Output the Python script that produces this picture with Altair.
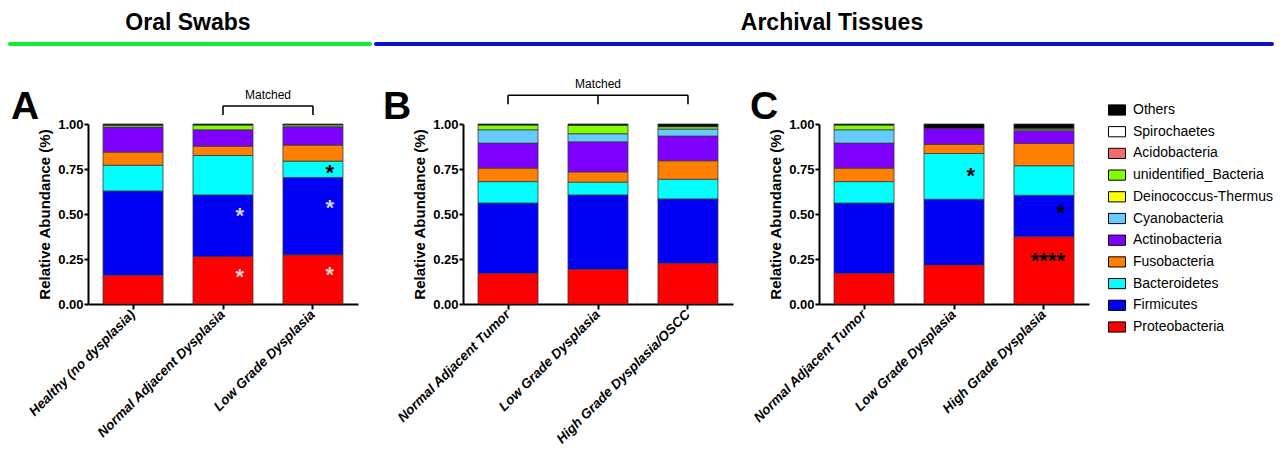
import altair as alt
import pandas as pd

FONT = "Liberation Sans"

# ---------------- data ----------------
stack_order = ["Proteobacteria", "Firmicutes", "Bacteroidetes", "Fusobacteria",
               "Actinobacteria", "Cyanobacteria", "Deinococcus-Thermus",
               "unidentified_Bacteria", "Acidobacteria", "Spirochaetes", "Others"]
legend_order = stack_order[::-1]
phylum_colors = ["#000000", "#ffffff", "#f26b6b", "#80ff00", "#ffff00", "#66ccff",
                 "#8000ff", "#ff8000", "#00ffff", "#0000f5", "#ff0000"]

# Panel A: Oral swabs (values in stack_order)
groups_A = ["Healthy (no dysplasia)", "Normal Adjacent Dysplasia", "Low Grade Dysplasia"]
healthy_A = [0.160, 0.468, 0.143, 0.073, 0.139, 0.000, 0.000, 0.010, 0.000, 0.000, 0.007]
nad_A = [0.264, 0.342, 0.219, 0.052, 0.091, 0.000, 0.000, 0.026, 0.000, 0.000, 0.006]
lgd_A = [0.273, 0.430, 0.091, 0.089, 0.102, 0.000, 0.000, 0.010, 0.000, 0.000, 0.005]

# Panel B: Archival tissues, matched
groups_B = ["Normal Adjacent Tumor", "Low Grade Dysplasia", "High Grade Dysplasia/OSCC"]
nat_B = [0.171, 0.390, 0.119, 0.075, 0.139, 0.074, 0.000, 0.026, 0.000, 0.000, 0.006]
lgd_B = [0.193, 0.413, 0.071, 0.057, 0.167, 0.045, 0.000, 0.047, 0.000, 0.000, 0.007]
hgd_B = [0.227, 0.357, 0.109, 0.103, 0.137, 0.039, 0.000, 0.013, 0.000, 0.000, 0.015]

# Panel C: Archival tissues
groups_C = ["Normal Adjacent Tumor", "Low Grade Dysplasia", "High Grade Dysplasia"]
nat_C = [0.171, 0.390, 0.119, 0.075, 0.139, 0.074, 0.000, 0.026, 0.000, 0.000, 0.006]
lgd_C = [0.217, 0.365, 0.254, 0.051, 0.089, 0.000, 0.000, 0.000, 0.000, 0.000, 0.024]
hgd_C = [0.374, 0.230, 0.164, 0.124, 0.071, 0.000, 0.000, 0.009, 0.004, 0.000, 0.024]

# significance stars
stars_A_group = ["Normal Adjacent Dysplasia", "Normal Adjacent Dysplasia",
                 "Low Grade Dysplasia", "Low Grade Dysplasia", "Low Grade Dysplasia"]
stars_A_y = [0.18, 0.514, 0.19, 0.563, 0.754]
stars_A_text = ["*", "*", "*", "*", "*"]
stars_A_tone = ["light", "light", "light", "light", "dark"]

stars_C_group = ["Low Grade Dysplasia", "High Grade Dysplasia", "High Grade Dysplasia"]
stars_C_y = [0.74, 0.531, 0.267]
stars_C_text = ["*", "*", "****"]
stars_C_tone = ["dark", "dark", "dark"]

# "Matched" brackets
matched_A_groups = ["Normal Adjacent Dysplasia", "Low Grade Dysplasia"]
matched_A_levels = [1.10, 1.05, 1.16]   # bar, tick end, label
matched_B_groups = ["Normal Adjacent Tumor", "Low Grade Dysplasia", "High Grade Dysplasia/OSCC"]
matched_B_levels = [1.16, 1.11, 1.22]


def long_table(groups, rows):
    recs = []
    for g, vals in zip(groups, rows):
        for rank, (ph, v) in enumerate(zip(stack_order, vals)):
            if v > 0:
                recs.append({"group": g, "phylum": ph, "value": v, "rank": rank})
    return pd.DataFrame(recs)


W, H = 270, 180
yscale = alt.Scale(domain=[0, 1], nice=False, zero=True)
YTITLE = "Relative Abundance (%)"

legend = alt.Legend(title=None, orient="none", legendX=1020, legendY=-23,
                    symbolType="M-1,-0.6H1V0.6H-1Z", symbolSize=289,
                    symbolStrokeColor="black", symbolStrokeWidth=1,
                    labelFont=FONT, labelFontSize=14, labelColor="black",
                    labelOffset=7, rowPadding=4.7, labelLimit=300)


def panel(groups, rows, letter, letter_x, stars=None, bracket=None, mid_tick=False,
          label_dx=0, headers=()):
    xscale = alt.Scale(domain=groups, paddingInner=0.333, paddingOuter=0.167)
    xaxis = alt.Axis(title=None, labelAngle=-45, labelAlign="right", labelBaseline="middle",
                     labelFontStyle="italic", labelFontWeight="bold", labelFontSize=13.5,
                     labelLimit=300, labelPadding=3, tickSize=5)
    yaxis = alt.Axis(values=[0, 0.25, 0.5, 0.75, 1], format=".2f", title=YTITLE,
                     grid=False, tickSize=4, labelPadding=1, titlePadding=5)

    def X(field):
        return alt.X(f"{field}:N", scale=xscale, axis=xaxis, sort=groups)

    def Y(field):
        return alt.Y(f"{field}:Q", scale=yscale, axis=yaxis)

    df = long_table(groups, rows)
    layers = [
        alt.Chart(df).mark_bar(stroke="#3a3a3a", strokeWidth=0.8).encode(
            x=X("group"),
            y=alt.Y("value:Q", stack="zero", scale=yscale, axis=yaxis),
            color=alt.Color("phylum:N", scale=alt.Scale(domain=legend_order, range=phylum_colors),
                            legend=legend),
            order=alt.Order("rank:Q", sort="ascending"),
        )
    ]
    if stars is not None:
        sg, sy, st, stone = stars
        sdf = pd.DataFrame({"group": sg, "y": sy, "t": st, "tone": stone})
        layers.append(
            alt.Chart(sdf).mark_text(font=FONT, fontWeight="bold", fontSize=22, align="right",
                                     baseline="alphabetic", dx=21, dy=12).encode(
                x=X("group"), y=Y("y"), text="t:N",
                fill=alt.condition(alt.datum.tone == "light", alt.value("#d2d2d2"), alt.value("black")),
            )
        )
    if bracket is not None:
        bg, levels = bracket
        hdf = pd.DataFrame({"g1": [bg[0]], "g2": [bg[-1]], "lvl": [levels[0]]})
        tdf = pd.DataFrame({"group": bg if mid_tick else [bg[0], bg[-1]],
                            "top": levels[0], "bot": levels[1]})
        ldf = pd.DataFrame({"group": [bg[len(bg) // 2] if mid_tick else bg[0]],
                            "lvl": [levels[2]], "t": ["Matched"]})
        layers += [
            alt.Chart(hdf).mark_rule(color="black", strokeWidth=1.6).encode(
                x=X("g1"), x2="g2:N", y=Y("lvl")),
            alt.Chart(tdf).mark_rule(color="black", strokeWidth=1.6).encode(
                x=X("group"), y=Y("top"), y2="bot:Q"),
            alt.Chart(ldf).mark_text(font=FONT, fontSize=12, baseline="middle", dx=label_dx,
                                     color="black").encode(
                x=X("group"), y=Y("lvl"), text="t:N"),
        ]
    # panel letter
    layers.append(
        alt.Chart(pd.DataFrame({"t": [letter]})).mark_text(
            font=FONT, fontWeight="bold", fontSize=39, align="center", baseline="alphabetic",
            color="black").encode(text="t:N", x=alt.value(letter_x), y=alt.value(-5))
    )
    for (txt, tx, lx1, lx2, col) in headers:
        layers += [
            alt.Chart(pd.DataFrame({"t": [txt]})).mark_text(
                font=FONT, fontWeight="bold", fontSize=23, align="center", baseline="alphabetic",
                color="black").encode(text="t:N", x=alt.value(tx), y=alt.value(-94)),
            alt.Chart(pd.DataFrame({"t": [txt]})).mark_rule(color=col, strokeWidth=4,
                                                            strokeCap="round").encode(
                x=alt.value(lx1), x2=alt.value(lx2), y=alt.value(-80)),
        ]
    return alt.layer(*layers).properties(width=W, height=H)


pA = panel(groups_A, [healthy_A, nad_A, lgd_A], "A", -63,
           stars=(stars_A_group, stars_A_y, stars_A_text, stars_A_tone),
           bracket=(matched_A_groups, matched_A_levels), label_dx=45,
           headers=[("Oral Swabs", 100, -78, 282, "#10ee30")])
pB = panel(groups_B, [nat_B, lgd_B, hgd_B], "B", -66,
           bracket=(matched_B_groups, matched_B_levels), mid_tick=True,
           headers=[("Archival Tissues", 369, -87, 809, "#0a12c8")])
pC = panel(groups_C, [nat_C, lgd_C, hgd_C], "C", -55,
           stars=(stars_C_group, stars_C_y, stars_C_text, stars_C_tone))

inner = alt.hconcat(pB, pC, spacing=86, bounds="flush")
chart = alt.hconcat(pA, inner, spacing=105, bounds="flush").properties(
    padding={"left": 0, "top": 4, "right": 0, "bottom": 0}
).configure_view(stroke=None).configure_axis(
    domainColor="black", domainWidth=2, tickColor="black", tickWidth=2,
    labelFont=FONT, labelFontWeight="bold", labelFontSize=13, labelColor="black",
    titleFont=FONT, titleFontWeight="bold", titleFontSize=15, titleColor="black",
)

chart.save("out.html", embed_options={"renderer": "svg", "actions": False})
